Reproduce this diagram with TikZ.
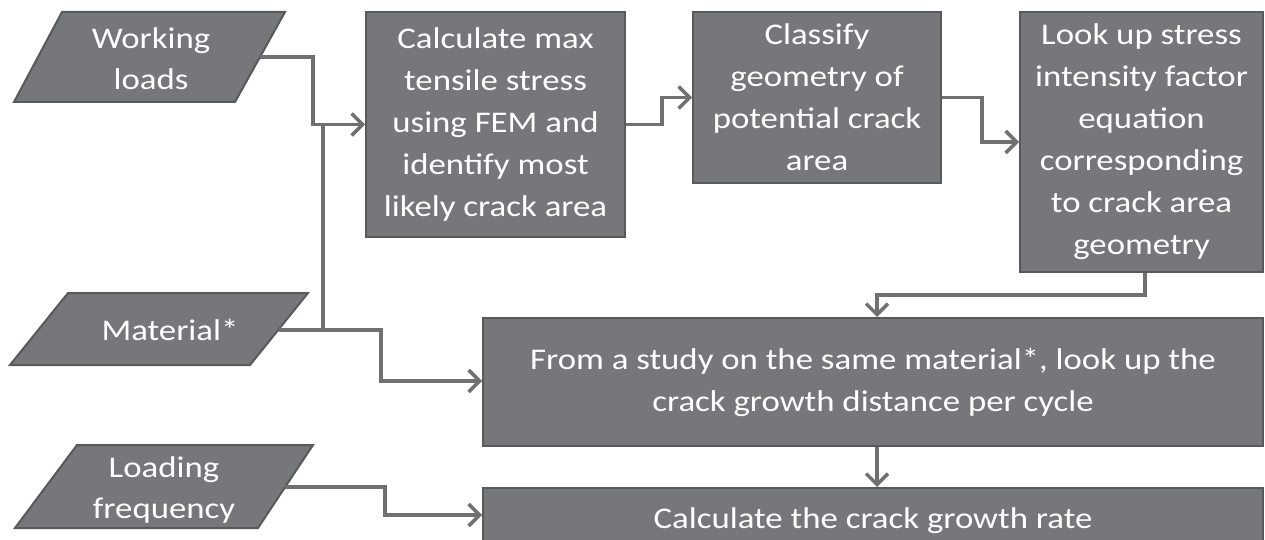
\documentclass[tikz,border=0pt]{standalone}
\usepackage{fontspec}
\setmainfont{Carlito}[FakeStretch=1.16]
\usetikzlibrary{arrows.meta}
\definecolor{boxfill}{HTML}{76777B}
\definecolor{boxline}{HTML}{58595B}
\definecolor{conncol}{HTML}{707072}
\tikzset{
  box/.style={draw=boxline, line width=2pt, fill=boxfill, text=white, inner sep=0pt, align=center,
    font=\fontsize{30pt}{42pt}\selectfont},
  para/.style={draw=boxline, line width=2pt, fill=boxfill},
  ptext/.style={text=white, inner sep=0pt, align=center, font=\fontsize{30pt}{41pt}\selectfont},
  conn/.style={draw=conncol, line width=3.5pt, -{Straight Barb[length=11pt,width=22pt,line width=3.5pt]}},
  plain/.style={draw=conncol, line width=3.5pt}
}
\begin{document}
\begin{tikzpicture}[x=1pt,y=-1pt]
\useasboundingbox (0,0) rectangle (1265,540);
\clip (0,0) rectangle (1265,540);
% parallelograms
\path[para] (62,12) -- (285,12) -- (235,102) -- (14,102) -- cycle;
\node[ptext] (wl) at (151,59) {Working\\loads};
\coordinate (wlout) at (260,57);
\path[para] (68,293) -- (308,293) -- (250,365) -- (10,365) -- cycle;
\node[ptext] (mat) at (170,330) {Material*};
\coordinate (matout) at (279,330);
\path[para] (77,445) -- (313,445) -- (258,528) -- (15,528) -- cycle;
\node[ptext] (lf) at (164,490) {Loading\\frequency};
\coordinate (lfout) at (285,487);
% boxes
\node[box, minimum width=259pt, minimum height=225pt] (b1) at (495.5,124.5)
  {Calculate max\\tensile stress\\using FEM and\\identify most\\likely crack area};
\node[box, minimum width=248pt, minimum height=171pt] (b2) at (817,97.5)
  {Classify\\geometry of\\potential crack\\area};
\node[box, minimum width=243pt, minimum height=260pt] (b3) at (1141.5,142)
  {Look up stress\\intensity factor\\equation\\corresponding\\to crack area\\geometry};
\node[box, minimum width=780pt, minimum height=128pt] (b4) at (873,382)
  {From a study on the same material*, look up the\\crack growth distance per cycle};
\node[box, minimum width=780pt, minimum height=66pt] (b5) at (873,521)
  {Calculate the crack growth rate};
% connectors
\coordinate (jm) at (323,330);
\draw[conn] (wlout) -- ++(53,0) |- (b1.west);
\draw[plain] (matout) -- (jm) -- (jm |- b1.west);
\draw[conn] (jm) -- ++(58,0) |- ([yshift=1pt]b4.west);
\draw[conn] (lfout) -- ++(100,0) |- ([yshift=6pt]b5.west);
\draw[conn] (b1.east) -- ++(36,0) |- (b2.west);
\draw[conn] (b2.east) -- ++(40,0) |- (b3.west);
\draw[conn] ([xshift=3.5pt]b3.south) -- ++(0,22) -| ([xshift=4pt]b4.north);
\draw[conn] ([xshift=4pt]b4.south) -- ([xshift=4pt]b5.north);
\end{tikzpicture}
\end{document}
